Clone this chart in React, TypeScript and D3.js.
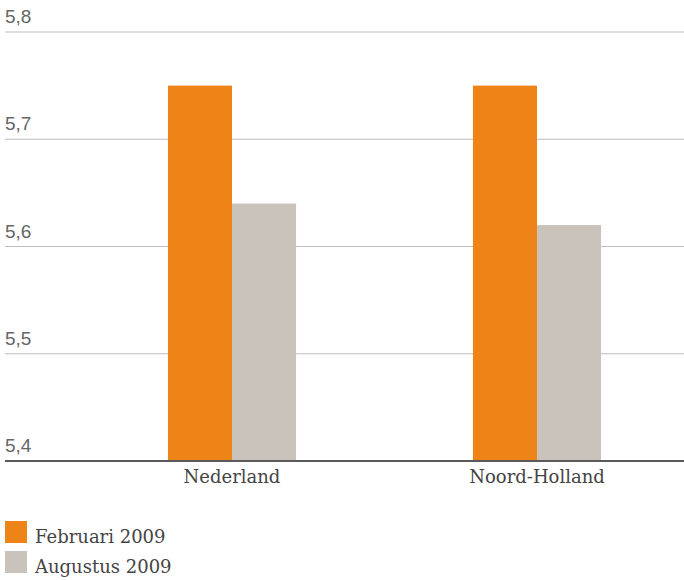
import React from 'react';
import * as d3 from 'd3';

const categories = ['Nederland', 'Noord-Holland'];
const seriesNames = ['Februari 2009', 'Augustus 2009'];
const februari = [5.75, 5.75];
const augustus = [5.64, 5.62];
const yTicks = [5.4, 5.5, 5.6, 5.7, 5.8];

const colors = ['#EE8318', '#C9C3BC'];

function App() {
  const width = 684;
  const height = 580;
  const plotLeft = 5;
  const plotRight = 684;
  const top = 32;
  const bottom = 461;

  const y = d3.scaleLinear().domain([5.4, 5.8]).range([bottom, top]);

  const x0 = d3
    .scaleBand()
    .domain(categories)
    .range([79.5, 689.5])
    .paddingInner(0.58)
    .paddingOuter(0.29);

  const x1 = d3.scaleBand().domain(seriesNames).range([0, x0.bandwidth()]);

  const values = [februari, augustus];
  const fmt = (v: number) => d3.format('.1f')(v).replace('.', ',');

  return (
    <svg
      width={width}
      height={height}
      style={{ position: 'absolute', left: 0, top: 0, background: '#fff' }}
    >
      {yTicks.map((t) =>
        t === 5.4 ? null : (
          <line
            key={'g' + t}
            x1={plotLeft}
            x2={plotRight}
            y1={y(t)}
            y2={y(t)}
            stroke="#BDBDBD"
            strokeWidth={1}
          />
        )
      )}
      {yTicks.map((t) => (
        <text
          key={'t' + t}
          x={plotLeft}
          y={y(t) - 9}
          fontFamily="'Liberation Sans', sans-serif"
          fontSize={19}
          fill="#666"
        >
          {fmt(t)}
        </text>
      ))}

      {categories.map((c, i) => (
        <g key={c} transform={`translate(${x0(c)},0)`}>
          {seriesNames.map((s, j) => (
            <rect
              key={s}
              x={x1(s)}
              y={y(values[j][i])}
              width={x1.bandwidth()}
              height={y(5.4) - y(values[j][i])}
              fill={colors[j]}
            />
          ))}
          <text
            x={x0.bandwidth() / 2}
            y={483}
            textAnchor="middle"
            fontFamily="'DejaVu Serif', serif"
            fontSize={18}
            fill="#444"
          >
            {c}
          </text>
        </g>
      ))}

      <line
        x1={plotLeft}
        x2={plotRight}
        y1={bottom}
        y2={bottom}
        stroke="#5A5A5A"
        strokeWidth={2}
      />

      {seriesNames.map((s, j) => (
        <g key={s} transform={`translate(5,${521 + j * 30})`}>
          <rect x={0} y={0} width={22} height={22} fill={colors[j]} />
          <text
            x={30}
            y={22}
            fontFamily="'DejaVu Serif', serif"
            fontSize={18}
            fill="#444"
          >
            {s}
          </text>
        </g>
      ))}
    </svg>
  );
}

export default App;
